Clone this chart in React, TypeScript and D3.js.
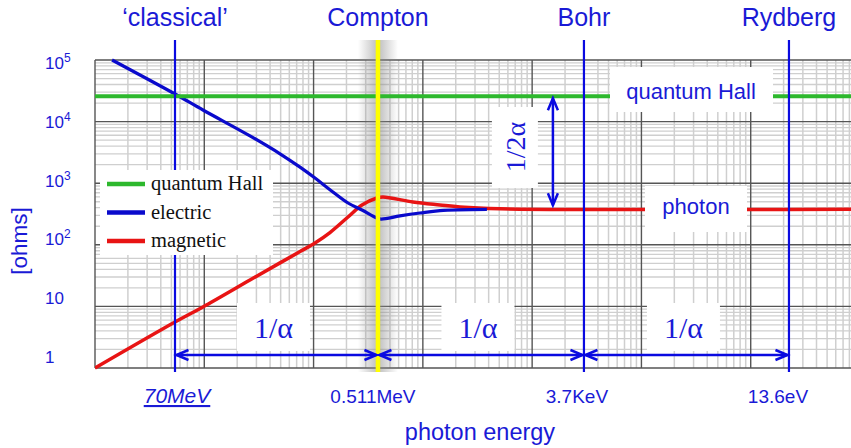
import React from "react";
import * as d3 from "d3";

// ---------- data ----------
const markerNames = ["\u2018classical\u2019", "Compton", "Bohr", "Rydberg"];
const markerDecades = [0.732, 2.589, 4.474, 6.35];
const energyLabels = ["70MeV", "0.511MeV", "3.7KeV", "13.6eV"];

const electricX = [0.156, 0.732, 0.988, 1.418, 1.693, 1.876, 2.013, 2.15, 2.315, 2.443, 2.58, 2.62, 2.79, 2.973, 3.156, 3.586];
const electricOhms = [100000, 28050, 15420, 5861, 3000, 1820, 1211, 784, 477, 367, 272, 262, 294, 328, 360, 377];

const magneticX = [0, 0.732, 0.988, 1.418, 1.693, 1.876, 2.013, 2.15, 2.315, 2.443, 2.58, 2.635, 2.91, 3.156, 3.34, 3.705, 7];
const magneticOhms = [1, 5.58, 9.8, 26.8, 50.9, 77.6, 107, 158, 283, 443, 575, 597, 495, 443, 411, 385, 377];

const quantumHallOhms = 25813;
const photonOhms = 377;

const yTicks = [1, 10, 100, 1000, 10000, 100000];
const yTickBase = ["1", "10", "10", "10", "10", "10"];
const yTickExp = ["", "", "2", "3", "4", "5"];

const legendLabels = ["quantum Hall", "electric", "magnetic"];
const legendColors = ["#2db82d", "#0a0acc", "#e81414"];

// ---------- layout ----------
const W = 851;
const H = 448;
const BLUE = "#1a1ad6";
const x = d3.scaleLinear().domain([0, 7]).range([95, 860]);
const y = d3.scaleLog().domain([1, 100000]).range([368, 60]);
const labelY = (v: number) => 63 + (y(v) - 60) * (294 / 308);
const energyDx = [2, -5, -7, -11];
const energySize = [21, 19, 19, 19];

function Chevron({ x0, y0, dir }: { x0: number; y0: number; dir: string }) {
  const L = 12, Wd = 5;
  let pts = "";
  if (dir === "left") pts = `${x0 + L},${y0 - Wd} ${x0},${y0} ${x0 + L},${y0 + Wd}`;
  if (dir === "right") pts = `${x0 - L},${y0 - Wd} ${x0},${y0} ${x0 - L},${y0 + Wd}`;
  if (dir === "up") pts = `${x0 - Wd},${y0 + L} ${x0},${y0} ${x0 + Wd},${y0 + L}`;
  if (dir === "down") pts = `${x0 - Wd},${y0 - L} ${x0},${y0} ${x0 + Wd},${y0 - L}`;
  return <polyline points={pts} fill="none" stroke="#0a0ae0" strokeWidth={2.5} strokeLinejoin="miter" />;
}

export default function App() {
  const decades = d3.range(0, 7);
  const majorX = d3.range(0, 8).map((d) => x(d));
  const minorX: number[] = [];
  decades.forEach((d) => d3.range(2, 10).forEach((k) => minorX.push(x(d + Math.log10(k)))));
  const majorY = yTicks.map((v) => y(v));
  const minorY: number[] = [];
  d3.range(0, 5).forEach((e) => d3.range(2, 10).forEach((k) => minorY.push(y(k * Math.pow(10, e)))));

  const line = d3
    .line<[number, number]>()
    .x((d) => x(d[0]))
    .y((d) => y(d[1]))
    .curve(d3.curveCatmullRom.alpha(0.5));
  const electricPath = line(electricX.map((v, i) => [v, electricOhms[i]]) as [number, number][]) || "";
  const magneticPath = line(magneticX.map((v, i) => [v, magneticOhms[i]]) as [number, number][]) || "";

  const mx = markerDecades.map((d) => x(d));
  const qhY = y(quantumHallOhms);
  const phY = y(photonOhms);
  const arrowY = 355;
  const halfAlphaX = x(4.19);

  return (
    <div style={{ position: "absolute", left: 0, top: 0 }}>
      <svg width={W} height={H} style={{ display: "block", background: "#fff" }}>
        <defs>
          <linearGradient id="shadow" x1="0" x2="1" y1="0" y2="0">
            <stop offset="0" stopColor="#888" stopOpacity={0} />
            <stop offset="0.5" stopColor="#888" stopOpacity={0.55} />
            <stop offset="1" stopColor="#888" stopOpacity={0} />
          </linearGradient>
          <clipPath id="plotclip">
            <rect x={95} y={58} width={W - 95} height={312} />
          </clipPath>
        </defs>
        <rect x={0} y={0} width={W} height={H} fill="#fff" />

        {/* grid */}
        <g>
          {minorX.map((px, i) => (
            <line key={"mx" + i} x1={px} x2={px} y1={60} y2={368} stroke="#cfcfcf" strokeWidth={1.5} />
          ))}
          {minorY.map((py, i) => (
            <line key={"my" + i} x1={95} x2={W} y1={py} y2={py} stroke="#cfcfcf" strokeWidth={1.3} />
          ))}
          {majorX.map((px, i) => (
            <line key={"Mx" + i} x1={px} x2={px} y1={60} y2={368} stroke="#555" strokeWidth={1.4} />
          ))}
          {majorY.map((py, i) => (
            <line key={"My" + i} x1={95} x2={W} y1={py} y2={py} stroke="#555" strokeWidth={1.4} />
          ))}
        </g>

        {/* Compton shadow */}
        <rect x={mx[1] - 20} y={40} width={40} height={332} fill="url(#shadow)" />

        {/* curves */}
        <g clipPath="url(#plotclip)">
          <path d={magneticPath} fill="none" stroke={legendColors[2]} strokeWidth={3.5} />
          <path d={electricPath} fill="none" stroke={legendColors[1]} strokeWidth={3.2} />
          <line x1={95} x2={W} y1={qhY} y2={qhY} stroke={legendColors[0]} strokeWidth={4} />
        </g>

        {/* marker lines */}
        {mx.map((px, i) => (
          <line
            key={"mk" + i}
            x1={px}
            x2={px}
            y1={40}
            y2={372}
            stroke={i === 1 ? "#ffff00" : "#0a0ae0"}
            strokeWidth={i === 1 ? 4.5 : 2.2}
          />
        ))}

        {/* legend */}
        <rect x={100} y={170} width={173} height={85} fill="#fff" />
        {legendLabels.map((lab, i) => (
          <g key={"lg" + i}>
            <line x1={107} x2={145} y1={184 + i * 28.5} y2={184 + i * 28.5} stroke={legendColors[i]} strokeWidth={4.5} />
            <text
              x={151}
              y={184 + i * 28.5 + 6}
              fontFamily="'Liberation Serif', 'Times New Roman', serif"
              fontSize={20.5}
              fill="#111"
            >
              {lab}
            </text>
          </g>
        ))}

        {/* right-side labels */}
        <rect x={610} y={67} width={163} height={45} fill="#fff" />
        <text x={691} y={99} textAnchor="middle" fontFamily="Arial, 'Liberation Sans', sans-serif" fontSize={22} fill={BLUE}>
          quantum Hall
        </text>
        <rect x={645} y={186} width={102} height={46} fill="#fff" />
        <text x={696} y={214} textAnchor="middle" fontFamily="Arial, 'Liberation Sans', sans-serif" fontSize={22} fill={BLUE}>
          photon
        </text>

        {/* 1/2 alpha */}
        <rect x={halfAlphaX - 61} y={107} width={46} height={81} fill="#fff" />
        <text
          transform={`translate(${halfAlphaX - 28},${147}) rotate(-90)`}
          textAnchor="middle"
          fontFamily="'Liberation Serif', 'Times New Roman', serif"
          fontSize={28}
          fill={BLUE}
        >
          1/2α
        </text>
        <line x1={halfAlphaX} x2={halfAlphaX} y1={qhY + 2} y2={phY - 4} stroke="#0a0ae0" strokeWidth={2.5} />
        <Chevron x0={halfAlphaX} y0={qhY + 2} dir="up" />
        <Chevron x0={halfAlphaX} y0={phY - 4} dir="down" />

        {/* 1/alpha arrows */}
        {[0, 1, 2].map((i) => {
          const a = mx[i] + 1.5;
          const b = mx[i + 1] - 1.5;
          const c = (mx[i] + mx[i + 1]) / 2 - 3;
          return (
            <g key={"ar" + i}>
              <rect x={c - 36.5} y={303} width={73} height={48} fill="#fff" />
              <text
                x={c}
                y={338}
                textAnchor="middle"
                fontFamily="'Liberation Serif', 'Times New Roman', serif"
                fontSize={30}
                fill={BLUE}
              >
                1/α
              </text>
              <line x1={a} x2={b} y1={arrowY} y2={arrowY} stroke="#0a0ae0" strokeWidth={2.5} />
              <Chevron x0={a} y0={arrowY} dir="left" />
              <Chevron x0={b} y0={arrowY} dir="right" />
            </g>
          );
        })}

        {/* top marker names */}
        {markerNames.map((n, i) => (
          <text
            key={"mn" + i}
            x={mx[i]}
            y={26}
            textAnchor="middle"
            fontFamily="Arial, 'Liberation Sans', sans-serif"
            fontSize={25}
            fill={BLUE}
          >
            {n}
          </text>
        ))}

        {/* bottom energy labels */}
        {energyLabels.map((n, i) => (
          <text
            key={"en" + i}
            x={mx[i] + energyDx[i]}
            y={403}
            textAnchor="middle"
            fontFamily="Arial, 'Liberation Sans', sans-serif"
            fontSize={energySize[i]}
            fontStyle={i === 0 ? "italic" : "normal"}
            textDecoration={i === 0 ? "underline" : "none"}
            fill={BLUE}
          >
            {n}
          </text>
        ))}

        {/* y tick labels */}
        {yTicks.map((v, i) => (
          <text
            key={"yt" + i}
            x={45}
            y={labelY(v) + 6}
            fontFamily="Arial, 'Liberation Sans', sans-serif"
            fontSize={17}
            fill={BLUE}
          >
            {yTickBase[i]}
            {yTickExp[i] && (
              <tspan dy={-7} fontSize={12}>
                {yTickExp[i]}
              </tspan>
            )}
          </text>
        ))}

        {/* axis titles */}
        <text
          transform="translate(27,241) rotate(-90)"
          textAnchor="middle"
          fontFamily="Arial, 'Liberation Sans', sans-serif"
          fontSize={22.5}
          fill={BLUE}
        >
          [ohms]
        </text>
        <text x={480} y={440} textAnchor="middle" fontFamily="Arial, 'Liberation Sans', sans-serif" fontSize={23.5} fill={BLUE}>
          photon energy
        </text>
      </svg>
    </div>
  );
}
